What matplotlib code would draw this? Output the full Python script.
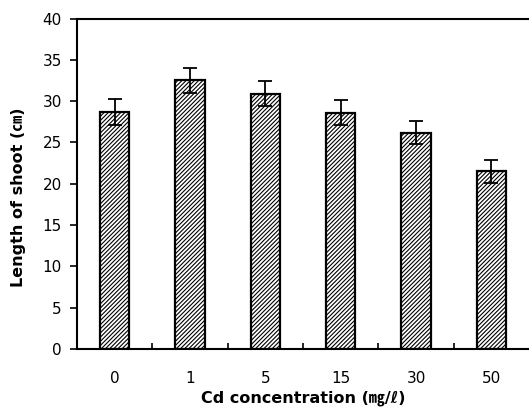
import matplotlib
matplotlib.use("Agg")
import matplotlib.pyplot as plt
import numpy as np

categories = ["0", "1", "5", "15", "30", "50"]
values = [28.7, 32.5, 30.9, 28.6, 26.2, 21.5]
errors = [1.55, 1.5, 1.5, 1.5, 1.35, 1.4]
yticks = [0, 5, 10, 15, 20, 25, 30, 35, 40]

plt.rcParams['font.family'] = ['DejaVu Sans', 'Noto Sans CJK KR']
plt.rcParams['hatch.linewidth'] = 0.8

fig = plt.figure(figsize=(5.29, 4.07), dpi=100)
ax = fig.add_axes([0.1456, 0.1425, 0.8544, 0.812])

x = np.arange(len(categories))
ax.bar(x, values, width=0.39, color='white', edgecolor='black', linewidth=1.6,
       hatch='////////', zorder=2)
ax.errorbar(x, values, yerr=errors, fmt='none', ecolor='black', elinewidth=1.3,
            capsize=5, capthick=1.3, zorder=3)

ax.set_xlim(-0.5, 5.5)
ax.set_ylim(0, 40)
ax.set_yticks(yticks)
ax.set_xticks(x)
ax.set_xticklabels(categories)
ax.set_xticks(np.arange(0.5, 5.0, 1.0), minor=True)
ax.tick_params(axis='x', which='major', length=0, pad=16, labelsize=11)
ax.tick_params(axis='x', which='minor', direction='in', length=4, width=1.2)
ax.tick_params(axis='y', direction='out', length=5, width=1.2, labelsize=11, pad=6)

for s in ['left', 'bottom', 'top']:
    ax.spines[s].set_linewidth(1.5)
ax.spines['right'].set_visible(False)

ax.set_ylabel("Length of shoot (㎝)", fontsize=11.5, fontweight='bold')
ax.yaxis.set_label_coords(-0.113, 0.46)
ax.set_xlabel("Cd concentration (㎎/ℓ)", fontsize=11.5, fontweight='bold', labelpad=3)

fig.savefig("out.png", dpi=100)
